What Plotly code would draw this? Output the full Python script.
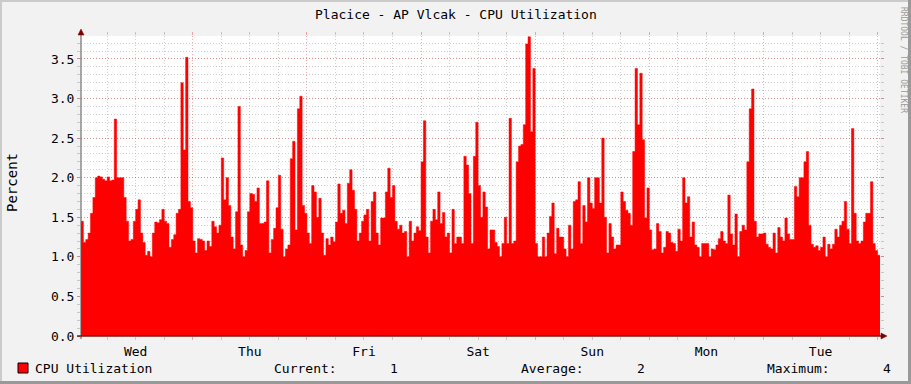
import pandas as pd
import plotly.graph_objects as go

# ---------------- data ----------------
title_text = "Placice - AP Vlcak - CPU Utilization"
y_label = "Percent"
series_name = "CPU Utilization"
start_time = "2024-01-03 00:30"   # a Wednesday, 30-minute samples for one week
sample_step = "30min"
day_tick_start = "2024-01-03"

cpu_values = [
    1.45, 1.18, 1.22, 1.3, 1.55, 1.75, 2.0, 2.02, 2.01, 1.98, 1.96, 2.01, 1.96, 1.97, 2.74, 2.0,
    2.0, 2.0, 1.75, 1.45, 1.2, 1.22, 1.45, 1.6, 1.72, 1.3, 1.18, 1.02, 1.07, 1.0, 1.3, 1.44,
    1.43, 1.47, 1.6, 1.45, 1.42, 1.12, 1.22, 1.28, 1.55, 1.6, 3.2, 2.35, 3.52, 1.7, 1.62, 1.2,
    1.05, 1.23, 1.22, 1.2, 1.08, 1.2, 1.13, 1.45, 1.38, 1.3, 1.4, 2.25, 1.72, 2.0, 1.65, 1.25,
    1.1, 1.57, 2.9, 1.15,
    1.0, 1.08, 1.57, 1.8, 1.79, 1.7, 1.87, 1.42, 1.42, 1.44, 1.96, 1.05, 1.22, 1.36, 1.62, 2.03,
    1.35, 1.0, 1.1, 1.15, 2.24, 2.46, 1.34, 2.87, 3.03, 1.65, 1.55, 1.3, 1.17, 1.9, 1.82, 1.5,
    1.74, 1.3, 1.02, 1.23, 1.15, 1.25, 1.19, 1.44, 1.92, 1.55, 1.59, 1.42, 1.93, 2.1, 1.84, 1.6,
    1.2, 1.3, 1.45, 1.53, 1.6, 1.2, 1.7, 1.82, 1.3, 1.15, 1.49, 1.49, 1.82, 2.12, 1.75, 1.9,
    1.45, 1.35, 1.4,
    1.3, 1.32, 1.0, 1.45, 1.2, 1.3, 1.38, 1.33, 2.2, 2.72, 1.25, 1.05, 1.45, 1.6, 1.47, 1.82,
    1.42, 1.56, 1.25, 1.3, 1.05, 1.6, 1.17, 1.25, 1.25, 1.17, 2.27, 2.16, 1.8, 1.17, 2.27, 2.7,
    1.9, 1.5, 1.82, 1.63, 1.1, 1.34, 1.34, 1.18, 1.13, 1.0, 1.17, 1.5, 1.17, 2.75, 1.17, 1.2,
    2.2, 2.4, 2.42, 2.67, 3.69, 3.78, 2.58, 3.38, 1.17, 1.0, 1.0, 1.25, 1.0, 1.3, 1.51, 1.68,
    1.04, 1.36, 1.25,
    1.25, 1.1, 1.0, 1.4, 1.1, 1.7, 1.72, 1.95, 1.17, 1.65, 1.44, 2.0, 1.68, 1.61, 2.0, 2.0,
    1.68, 2.5, 1.5, 1.05, 1.42, 1.25, 1.1, 1.15, 1.15, 1.82, 1.7, 1.59, 1.55, 1.4, 2.33, 3.38,
    2.67, 3.32, 2.48, 1.49, 1.87, 1.34, 1.09, 1.1, 1.42, 1.32, 1.05, 1.12, 1.32, 1.3, 1.18, 1.17,
    1.07, 1.35, 1.2, 2.0, 1.68, 1.76, 1.25, 1.44, 1.15, 1.12, 1.0, 1.17, 1.17, 1.17, 1.0, 1.1,
    1.09, 1.15, 1.23, 1.32,
    1.2, 1.17, 1.78, 1.29, 1.15, 1.54, 1.0, 1.32, 1.4, 1.34, 2.2, 2.87, 3.12, 1.45, 1.25, 1.29,
    1.29, 1.3, 1.16, 1.12, 1.1, 1.3, 1.05, 1.37, 1.25, 1.2, 1.49, 1.29, 1.22, 1.22, 1.89, 1.76,
    2.0, 2.0, 2.2, 2.33, 1.4, 1.16, 1.12, 1.14, 1.08, 1.12, 1.25, 1.0, 1.16, 1.1, 1.16, 1.35,
    1.25, 1.4, 1.45, 1.7, 1.35, 1.17, 2.62, 1.55, 1.2, 1.17, 1.2, 1.44, 1.55, 1.55, 1.95, 1.17,
    1.08, 1.02,
]

y_tick_values = [0.0, 0.5, 1.0, 1.5, 2.0, 2.5, 3.0, 3.5]
y_tick_labels = ["0.0", "0.5", "1.0", "1.5", "2.0", "2.5", "3.0", "3.5"]
y_max = 3.79

legend_labels = ["Current:", "Average:", "Maximum:"]
legend_values = ["1", "2", "4"]

# ---------------- layout geometry / style ----------------
W, H = 911, 384
PL, PR, PT, PB = 81, 880, 36, 336
FONT = "DejaVu Sans Mono"
BG = "#F2F2F2"
MGRID = "rgba(222,48,48,0.4)"
GRID = "rgba(143,143,143,0.42)"


def px(x):
    return (x - PL) / (PR - PL)


def py(y):
    return (PB - y) / (PB - PT)


times = pd.date_range(start_time, periods=len(cpu_values) + 1, freq=sample_step)
values_step = cpu_values + [cpu_values[-1]]

fig = go.Figure()
fig.add_trace(go.Scatter(
    x=times, y=values_step, mode="lines", name=series_name,
    line=dict(shape="hv", width=0.5, color="#FF0000"),
    fill="tozeroy", fillcolor="#FF0000", hoverinfo="skip",
))

fig.update_layout(
    width=W, height=H,
    margin=dict(l=PL, r=W - PR, t=PT, b=H - PB, pad=0, autoexpand=False),
    paper_bgcolor=BG, plot_bgcolor="#FFFFFF",
    showlegend=False,
    font=dict(family=FONT, size=13, color="#000000"),
)

fig.update_xaxes(
    type="date",
    range=[times[0], times[-1]],
    tickmode="linear", tick0=day_tick_start, dtick=86400000,
    tickformat="%a", ticklabelmode="period",
    showgrid=True, gridcolor=MGRID, griddash="1px,2px", gridwidth=1,
    ticks="outside", ticklen=3, tickcolor=MGRID, mirror="ticks",
    showline=False, zeroline=False, automargin=False,
    tickfont=dict(family=FONT, size=13, color="#000000"),
    minor=dict(tick0=day_tick_start, dtick=21600000, showgrid=True, gridcolor=GRID,
               griddash="1px,2px", ticks="outside", ticklen=3, tickcolor=GRID),
)

fig.update_yaxes(
    range=[0, y_max],
    tickmode="array", tickvals=y_tick_values, ticktext=y_tick_labels,
    showgrid=True, gridcolor=MGRID, griddash="1px,2px", gridwidth=1,
    ticks="outside", ticklen=3, tickcolor=MGRID, mirror="ticks",
    showline=False, zeroline=False, automargin=False,
    tickfont=dict(family=FONT, size=13, color="#000000"),
    minor=dict(dtick=0.1, tick0=0, showgrid=True, gridcolor=GRID, griddash="1px,2px",
               ticks="outside", ticklen=3, tickcolor=GRID),
)

shapes = []
# frame shading
shapes.append(dict(type="rect", xref="paper", yref="paper", x0=px(0), x1=px(W), y0=py(0), y1=py(2),
                   fillcolor="#CBCBCB", line_width=0))
shapes.append(dict(type="rect", xref="paper", yref="paper", x0=px(0), x1=px(2), y0=py(0), y1=py(H),
                   fillcolor="#CBCBCB", line_width=0))
shapes.append(dict(type="rect", xref="paper", yref="paper", x0=px(W - 3), x1=px(W), y0=py(0), y1=py(H),
                   fillcolor="#999999", line_width=0))
shapes.append(dict(type="rect", xref="paper", yref="paper", x0=px(0), x1=px(W), y0=py(H - 3), y1=py(H),
                   fillcolor="#999999", line_width=0))
# axis lines
shapes.append(dict(type="line", xref="paper", yref="paper", x0=px(PL), x1=px(PL), y0=py(PB + 3), y1=py(33),
                   line=dict(color="#555555", width=1)))
shapes.append(dict(type="line", xref="paper", yref="paper", x0=px(PL - 4), x1=px(PR + 3), y0=py(PB), y1=py(PB),
                   line=dict(color="#7F1010", width=1.5)))
# arrows
shapes.append(dict(type="path", xref="paper", yref="paper",
                   path=f"M{px(PL-3)},{py(35)} L{px(PL+3)},{py(35)} L{px(PL)},{py(29)} Z",
                   fillcolor="#7F0000", line=dict(color="#7F0000", width=0.5)))
shapes.append(dict(type="path", xref="paper", yref="paper",
                   path=f"M{px(PR+1)},{py(PB-3)} L{px(PR+1)},{py(PB+3)} L{px(PR+7)},{py(PB)} Z",
                   fillcolor="#7F0000", line=dict(color="#7F0000", width=0.5)))
# legend box
shapes.append(dict(type="rect", xref="paper", yref="paper", x0=px(18), x1=px(28), y0=py(373), y1=py(363),
                   fillcolor="#FF0000", line=dict(color="#000000", width=1)))

annotations = []
annotations.append(dict(text=title_text, xref="paper", yref="paper", x=px(W / 2), y=py(14),
                        showarrow=False, xanchor="center", yanchor="middle",
                        font=dict(family=FONT, size=13, color="#000000")))
annotations.append(dict(text=y_label, xref="paper", yref="paper", x=px(12), y=py(183),
                        showarrow=False, xanchor="center", yanchor="middle", textangle=-90,
                        font=dict(family=FONT, size=14, color="#000000")))
annotations.append(dict(text="RRDTOOL / TOBI OETIKER", xref="paper", yref="paper", x=px(903), y=py(60),
                        showarrow=False, xanchor="center", yanchor="middle", textangle=90,
                        font=dict(family=FONT, size=8, color="#999999")))
annotations.append(dict(text=series_name, xref="paper", yref="paper", x=px(33), y=py(368),
                        showarrow=False, xanchor="left", yanchor="middle",
                        font=dict(family=FONT, size=13, color="#000000")))
label_x = [272, 519, 765]
value_x = [400, 647, 893]
for lab, val, lx, vx in zip(legend_labels, legend_values, label_x, value_x):
    annotations.append(dict(text=lab, xref="paper", yref="paper", x=px(lx), y=py(368),
                            showarrow=False, xanchor="left", yanchor="middle",
                            font=dict(family=FONT, size=13, color="#000000")))
    annotations.append(dict(text=val, xref="paper", yref="paper", x=px(vx), y=py(368),
                            showarrow=False, xanchor="right", yanchor="middle",
                            font=dict(family=FONT, size=13, color="#000000")))

fig.update_layout(shapes=shapes, annotations=annotations)

fig.write_html(
    "out.html",
    config={"displayModeBar": False},
    post_script="document.body.style.margin='0';document.body.style.padding='0';",
)
